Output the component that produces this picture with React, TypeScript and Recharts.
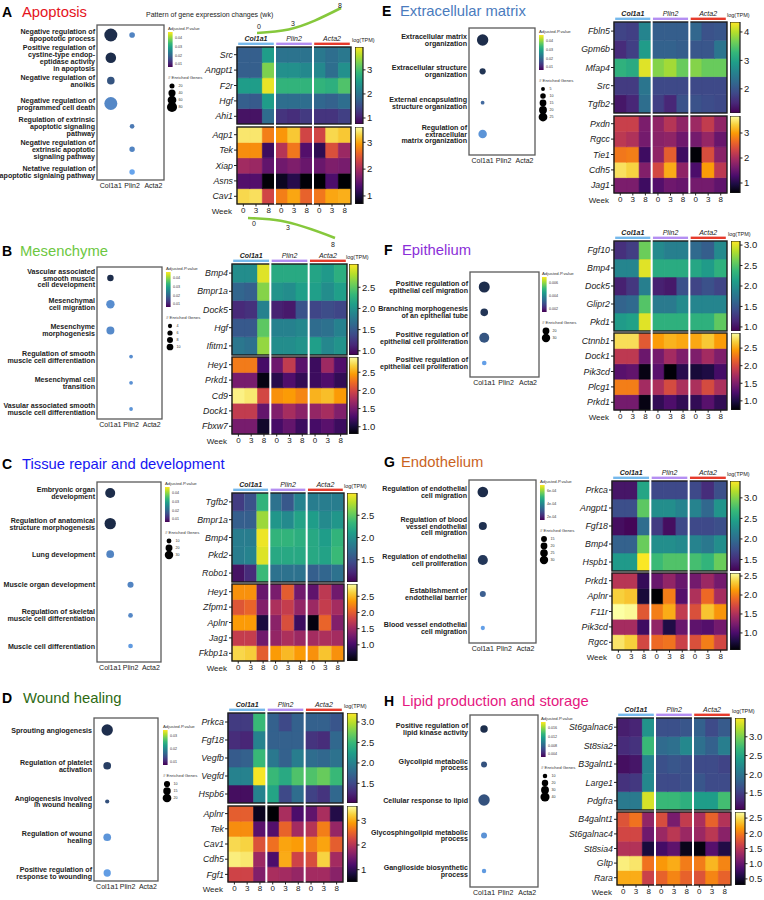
import React from "react";
import {
  BarChart,
  Bar,
  Cell,
  XAxis,
  YAxis,
  ScatterChart,
  Scatter,
  ZAxis,
  LineChart,
  Line,
} from "recharts";

const FONT = '"Liberation Sans", Arial, Helvetica, sans-serif';

// Shared axes: three cell populations sampled at weeks 0, 3 and 8
const groups = ["Col1a1", "Plin2", "Acta2"];
const weeks = ["0", "3", "8"];
const groupColors = ["#76b9ec", "#b48ef2", "#e63a2c"];

// Pattern sketch (expression trend over weeks)
const patternWeeks = [0, 3, 8];
const patternRise = [0, 0.14, 1];
const patternFall = [1, 0.86, 0];

type Dot = { t: number; c: number; n: number; p: number };

// ---------- A: Apoptosis ----------
const apoTerms = [
  "Negative regulation of\napopototic process",
  "Positive regulation of\ncystine-type endop-\neptidase activity\nin apoptosis",
  "Negative regulation of\nanoikis",
  "Negative regulation of\nprogrammed cell death",
  "Regulation of extrinsic\napoptotic signaling\npathway",
  "Negative regulation of\nextrinsic apoptotic\nsignaling pathway",
  "Netative regulation of\napoptotic signlaing pathway",
];
const apoDots: Dot[] = [
  { t: 0, c: 0, n: 85, p: 0.006 },
  { t: 0, c: 1, n: 16, p: 0.033 },
  { t: 1, c: 0, n: 56, p: 0.006 },
  { t: 2, c: 0, n: 29, p: 0.018 },
  { t: 3, c: 0, n: 85, p: 0.034 },
  { t: 4, c: 1, n: 11, p: 0.03 },
  { t: 5, c: 1, n: 15, p: 0.033 },
  { t: 6, c: 1, n: 15, p: 0.043 },
];
const apoTopGenes = ["Src", "Angpt1", "F2r", "Hgf", "Ahi1"];
const apoTopExpr = [
  [1.71, 1.71, 2.51, 1.97, 1.97, 1.97, 2.03, 1.9, 2.03],
  [1.71, 1.71, 3.31, 2.35, 2.35, 2.25, 2.25, 1.9, 2.35],
  [2.51, 2.51, 3.85, 2.83, 2.83, 2.83, 2.83, 2.77, 3.05],
  [1.71, 1.65, 2.51, 1.9, 1.9, 1.9, 1.81, 1.74, 1.9],
  [0.91, 0.91, 1.87, 1.23, 1.17, 1.29, 1.23, 1.23, 1.36],
];
const apoBotGenes = ["Aqp1", "Tek", "Xiap", "Asns", "Cav1"];
const apoBotExpr = [
  [3.4, 3.4, 2.75, 2.9, 3.2, 2.3, 2.3, 3.3, 3.2],
  [2.85, 2.85, 1.25, 2.1, 2.7, 1.4, 1.15, 2.4, 1.9],
  [1.95, 1.9, 1.5, 1.6, 1.7, 1.55, 1.55, 1.7, 1.65],
  [1.4, 1.4, 0.72, 0.85, 1.1, 0.72, 0.7, 1.35, 0.7],
  [3.3, 3.35, 2.3, 2.75, 3.0, 2.55, 2.7, 3.0, 3.05],
];

// ---------- B: Mesenchyme ----------
const mesTerms = [
  "Vascular associated\nsmooth muscle\ncell development",
  "Mesenchymal\ncell migration",
  "Mesenchyme\nmorphogenesis",
  "Regulation of smooth\nmuscle cell differentiation",
  "Mesenchymal cell\ntransition",
  "Vasular associated smooth\nmuscle cell differentiation",
];
const mesDots: Dot[] = [
  { t: 0, c: 0, n: 6, p: 0.006 },
  { t: 1, c: 0, n: 10, p: 0.036 },
  { t: 2, c: 0, n: 9, p: 0.035 },
  { t: 3, c: 1, n: 2, p: 0.036 },
  { t: 4, c: 1, n: 2, p: 0.037 },
  { t: 5, c: 1, n: 2, p: 0.038 },
];
const mesTopGenes = ["Bmp4", "Bmpr1a", "Dock5", "Hgf", "Ifitm1"];
const mesTopExpr = [
  [1.95, 1.95, 2.95, 2.2, 2.2, 2.2, 2.15, 2.05, 2.25],
  [1.6, 1.55, 2.65, 2.0, 1.95, 2.1, 2.1, 1.95, 2.1],
  [1.15, 1.2, 1.85, 1.1, 1.05, 1.45, 1.35, 1.4, 1.35],
  [1.5, 1.5, 2.5, 1.85, 1.85, 1.9, 1.65, 1.7, 1.85],
  [1.75, 1.7, 2.7, 1.95, 1.95, 2.0, 2.1, 1.9, 2.0],
];
const mesBotGenes = ["Hey1", "Prkd1", "Cd9", "Dock1", "Fbxw7"];
const mesBotExpr = [
  [2.3, 2.3, 1.25, 1.45, 1.9, 1.35, 1.2, 1.7, 1.3],
  [1.5, 1.5, 0.85, 1.1, 1.3, 1.15, 1.2, 1.3, 1.15],
  [2.85, 2.8, 2.0, 2.4, 2.45, 2.35, 2.55, 2.6, 2.45],
  [1.9, 1.9, 1.4, 1.55, 1.75, 1.6, 1.65, 1.75, 1.55],
  [1.5, 1.5, 0.95, 1.25, 1.4, 1.2, 1.25, 1.35, 1.2],
];

// ---------- C: Tissue repair and development ----------
const tisTerms = [
  "Embryonic organ\ndevelopment",
  "Regulation of anatomical\nstructure morphogenesis",
  "Lung development",
  "Muscle organ development",
  "Regulation of skeletal\nmuscle cell differentiation",
  "Muscle cell differentiation",
];
const tisDots: Dot[] = [
  { t: 0, c: 0, n: 27, p: 0.006 },
  { t: 1, c: 0, n: 35, p: 0.005 },
  { t: 2, c: 0, n: 16, p: 0.033 },
  { t: 3, c: 1, n: 10, p: 0.033 },
  { t: 4, c: 1, n: 6, p: 0.034 },
  { t: 5, c: 1, n: 6, p: 0.04 },
];
const tisTopGenes = ["Tgfb2", "Bmpr1a", "Bmp4", "Pkd2", "Robo1"];
const tisTopExpr = [
  [1.35, 1.5, 2.3, 1.75, 1.55, 1.9, 1.85, 1.85, 1.85],
  [1.6, 1.6, 2.7, 2.05, 1.95, 2.15, 2.1, 1.95, 2.05],
  [1.85, 1.85, 2.95, 2.3, 2.3, 2.25, 2.2, 2.1, 2.3],
  [1.85, 1.9, 2.9, 2.2, 2.2, 2.2, 2.2, 2.15, 2.35],
  [1.1, 1.25, 2.35, 1.75, 1.75, 1.75, 1.6, 1.65, 1.75],
];
const tisBotGenes = ["Hey1", "Zfpm1", "Aplnr", "Jag1", "Fkbp1a"];
const tisBotExpr = [
  [2.3, 2.3, 1.2, 1.3, 2.0, 1.25, 1.15, 1.7, 1.25],
  [1.95, 2.05, 1.35, 1.6, 1.75, 1.45, 1.5, 1.75, 1.55],
  [2.35, 2.35, 0.75, 1.4, 1.9, 0.95, 0.55, 2.05, 1.35],
  [1.75, 1.75, 1.25, 1.45, 1.6, 1.5, 1.55, 1.6, 1.55],
  [2.65, 2.6, 2.0, 2.35, 2.5, 2.35, 2.3, 2.55, 2.3],
];

// ---------- D: Wound healing ----------
const wouTerms = [
  "Sprouting angiogenesis",
  "Regulation of platelet\nactivation",
  "Angiogenesis involved\nin wound healing",
  "Regulation of wound\nhealing",
  "Positive regulation of\nresponse to wounding",
];
const wouDots: Dot[] = [
  { t: 0, c: 0, n: 22, p: 0.004 },
  { t: 1, c: 0, n: 10, p: 0.008 },
  { t: 2, c: 0, n: 3, p: 0.012 },
  { t: 3, c: 0, n: 10, p: 0.028 },
  { t: 4, c: 0, n: 9, p: 0.03 },
];
const wouTopGenes = ["Prkca", "Fgf18", "Vegfb", "Vegfd", "Hspb6"];
const wouTopExpr = [
  [1.4, 1.4, 2.5, 1.7, 1.5, 1.7, 1.7, 1.7, 1.6],
  [1.3, 1.25, 2.0, 1.7, 1.7, 1.7, 1.35, 1.3, 1.75],
  [1.65, 1.7, 2.5, 1.9, 1.7, 1.95, 1.8, 1.75, 1.85],
  [2.0, 2.0, 3.2, 2.5, 2.35, 2.6, 2.6, 2.7, 2.5],
  [1.1, 1.1, 2.0, 2.3, 1.5, 1.8, 1.45, 1.35, 1.75],
];
const wouBotGenes = ["Aplnr", "Tek", "Cav1", "Cdh5", "Fgf1"];
const wouBotExpr = [
  [2.45, 2.45, 0.65, 0.5, 1.9, 1.2, 1.35, 1.9, 0.9],
  [2.8, 2.8, 1.3, 1.25, 2.5, 1.85, 2.0, 2.7, 1.75],
  [3.3, 3.25, 2.35, 2.6, 2.95, 2.9, 2.7, 2.95, 2.45],
  [3.45, 3.4, 1.8, 1.2, 3.0, 2.2, 2.3, 3.25, 1.85],
  [2.2, 2.2, 1.6, 1.9, 1.85, 1.75, 1.85, 1.85, 1.65],
];

// ---------- E: Extracellular matrix ----------
const ecmTerms = [
  "Extracellular matrix\norganization",
  "Extracellular structure\norganization",
  "External encapsulating\nstructure organization",
  "Regulation of\nextracellular\nmatrix organization",
];
const ecmDots: Dot[] = [
  { t: 0, c: 0, n: 27, p: 0.006 },
  { t: 1, c: 0, n: 8, p: 0.008 },
  { t: 2, c: 0, n: 3, p: 0.025 },
  { t: 3, c: 0, n: 15, p: 0.038 },
];
const ecmTopGenes = ["Fbln5", "Gpm6b", "Mfap4", "Src", "Tgfb2"];
const ecmTopExpr = [
  [1.8, 1.75, 2.6, 2.1, 2.1, 2.1, 2.2, 1.95, 2.0],
  [1.55, 1.75, 2.9, 2.15, 2.15, 2.1, 2.0, 2.0, 2.4],
  [3.2, 3.1, 4.2, 3.75, 3.9, 3.6, 3.75, 3.6, 3.6],
  [1.7, 1.7, 2.4, 1.85, 1.85, 1.85, 1.85, 1.85, 1.85],
  [1.35, 1.5, 2.3, 1.75, 1.5, 1.95, 1.95, 1.9, 1.85],
];
const ecmBotGenes = ["Pxdn", "Rgcc", "Tie1", "Cdh5", "Jag1"];
const ecmBotExpr = [
  [2.25, 2.25, 1.65, 1.8, 2.1, 1.8, 1.9, 2.2, 1.8],
  [2.15, 2.05, 1.6, 1.75, 1.8, 1.55, 1.6, 1.85, 1.5],
  [2.75, 2.8, 1.2, 1.8, 2.55, 1.2, 0.62, 2.4, 1.75],
  [3.45, 3.35, 1.7, 2.35, 3.1, 1.8, 1.3, 3.0, 2.15],
  [1.65, 1.65, 1.2, 1.35, 1.55, 1.5, 1.6, 1.6, 1.45],
];

// ---------- F: Epithelium ----------
const epiTerms = [
  "Positive regulation of\nepithelial cell migration",
  "Branching morphogenesis\nof an epithelial tube",
  "Positive regulation of\nepithelial cell proliferation",
  "Positive regulation of\nepithelial cell proliferation",
];
const epiDots: Dot[] = [
  { t: 0, c: 0, n: 33, p: 0.0012 },
  { t: 1, c: 0, n: 16, p: 0.0015 },
  { t: 2, c: 0, n: 27, p: 0.003 },
  { t: 3, c: 0, n: 6, p: 0.0065 },
];
const epiTopGenes = ["Fgf10", "Bmp4", "Dock5", "Glipr2", "Pkd1"];
const epiTopExpr = [
  [1.2, 1.3, 2.6, 1.95, 1.85, 1.85, 1.65, 1.55, 1.95],
  [1.9, 1.9, 3.0, 2.25, 2.25, 2.25, 2.2, 2.1, 2.3],
  [1.1, 1.25, 1.85, 1.1, 1.05, 1.45, 1.35, 1.45, 1.35],
  [1.6, 1.65, 2.5, 1.8, 1.8, 1.95, 1.9, 1.9, 1.9],
  [2.1, 2.15, 3.0, 2.3, 2.3, 2.3, 2.3, 2.3, 2.55],
];
const epiBotGenes = ["Ctnnb1", "Dock1", "Pik3cd", "Plcg1", "Prkd1"];
const epiBotExpr = [
  [2.75, 2.75, 2.1, 2.45, 2.55, 2.5, 2.5, 2.65, 2.45],
  [1.85, 1.85, 1.4, 1.45, 1.7, 1.5, 1.5, 1.7, 1.5],
  [1.3, 1.35, 0.8, 1.3, 0.75, 1.05, 0.95, 1.0, 1.2],
  [2.3, 2.3, 1.7, 1.75, 2.0, 1.75, 1.75, 2.0, 1.75],
  [1.45, 1.45, 0.8, 1.1, 1.25, 1.1, 1.1, 1.3, 1.1],
];

// ---------- G: Endothelium ----------
const endTerms = [
  "Regulation of endothelial\ncell migration",
  "Regulation of blood\nvessel endothelial\ncell migration",
  "Regulation of endothelial\ncell proliferation",
  "Establishment of\nendothelial barrier",
  "Blood vessel endothelial\ncell migration",
];
const endDots: Dot[] = [
  { t: 0, c: 0, n: 31, p: 0.00011 },
  { t: 1, c: 0, n: 18, p: 0.00013 },
  { t: 2, c: 0, n: 28, p: 0.00016 },
  { t: 3, c: 0, n: 10, p: 0.00035 },
  { t: 4, c: 0, n: 5, p: 0.00065 },
];
const endTopGenes = ["Prkca", "Angpt1", "Fgf18", "Bmp4", "Hspb1"];
const endTopExpr = [
  [1.35, 1.35, 2.5, 1.7, 1.7, 1.7, 1.7, 1.5, 1.75],
  [1.75, 1.75, 2.85, 2.3, 2.3, 2.2, 2.2, 1.95, 2.35],
  [1.3, 1.25, 2.0, 1.6, 1.3, 1.7, 1.7, 1.7, 1.75],
  [1.9, 1.9, 2.9, 2.3, 2.3, 2.25, 2.2, 2.1, 2.3],
  [2.4, 2.4, 3.4, 2.7, 2.8, 2.8, 2.75, 2.65, 2.9],
];
const endBotGenes = ["Prkd1", "Aplnr", "F11r", "Pik3cd", "Rgcc"];
const endBotExpr = [
  [1.55, 1.55, 0.9, 1.15, 1.35, 1.15, 1.2, 1.4, 1.2],
  [2.35, 2.3, 0.75, 0.55, 2.0, 1.05, 1.5, 1.9, 1.45],
  [2.6, 2.55, 1.8, 2.0, 2.2, 1.6, 1.75, 2.3, 2.1],
  [1.45, 1.45, 0.95, 1.35, 0.8, 1.15, 1.1, 1.05, 1.2],
  [2.45, 2.35, 1.7, 1.9, 1.95, 1.65, 1.75, 2.0, 1.7],
];

// ---------- H: Lipid production and storage ----------
const lipTerms = [
  "Positive regulation of\nlipid kinase activity",
  "Glycolipid metabolic\nprocess",
  "Cellular response to lipid",
  "Glycosphingolipid metabolic\nprocess",
  "Ganglioside biosynthetic\nprocess",
];
const lipDots: Dot[] = [
  { t: 0, c: 0, n: 17, p: 0.0025 },
  { t: 1, c: 0, n: 11, p: 0.007 },
  { t: 2, c: 0, n: 40, p: 0.007 },
  { t: 3, c: 0, n: 11, p: 0.015 },
  { t: 4, c: 0, n: 6, p: 0.016 },
];
const lipTopGenes = ["St6galnac6", "St8sia2", "B3galnt1", "Large1", "Pdgfra"];
const lipTopExpr = [
  [1.25, 1.3, 2.3, 1.65, 1.65, 1.7, 1.8, 1.6, 1.75],
  [1.35, 1.4, 2.7, 1.9, 1.95, 2.2, 1.95, 1.8, 2.1],
  [1.15, 1.2, 2.15, 1.65, 1.7, 1.65, 1.6, 1.6, 1.55],
  [1.4, 1.45, 2.2, 1.6, 1.6, 1.65, 1.7, 1.6, 1.6],
  [2.05, 2.05, 3.35, 2.7, 2.7, 2.6, 2.4, 2.4, 2.75],
];
const lipBotGenes = ["B4galnt1", "St6galnac4", "St8sia4", "Gltp", "Rara"];
const lipBotExpr = [
  [1.75, 1.95, 1.25, 1.7, 1.1, 1.55, 1.4, 1.85, 1.45],
  [1.65, 1.65, 1.05, 1.3, 1.5, 1.3, 1.3, 1.5, 1.2],
  [1.45, 1.45, 0.55, 0.8, 0.95, 0.4, 0.35, 0.9, 0.6],
  [2.6, 2.55, 1.95, 2.15, 2.25, 2.0, 2.0, 2.3, 2.05],
  [2.25, 2.25, 1.6, 1.85, 2.05, 1.85, 1.75, 2.05, 1.85],
];

// ---------- colour maps ----------
const VIRIDIS = ["#440154", "#482878", "#3e4a89", "#31688e", "#26828e", "#1f9e89", "#35b779", "#6ece58", "#b5de2b", "#fde725"];
const INFERNO = ["#000004", "#1b0c41", "#4a0c6b", "#781c6d", "#a52c60", "#cf4446", "#ed6925", "#fb9b06", "#f7d13d", "#fcffa4"];

function hexToRgb(h: string) {
  const v = parseInt(h.slice(1), 16);
  return [(v >> 16) & 255, (v >> 8) & 255, v & 255];
}
function lerpColor(a: string, b: string, t: number) {
  const A = hexToRgb(a);
  const B = hexToRgb(b);
  const c = A.map((x, i) => Math.round(x + (B[i] - x) * t));
  return `rgb(${c[0]},${c[1]},${c[2]})`;
}
function sampleMap(stops: string[], t: number) {
  const tt = Math.max(0, Math.min(1, t));
  const s = tt * (stops.length - 1);
  const i = Math.min(stops.length - 2, Math.floor(s));
  return lerpColor(stops[i], stops[i + 1], s - i);
}
function dotColor(p: number, dom: number[]) {
  return lerpColor("#1b2a47", "#6aaaf6", Math.max(0, Math.min(1, (p - dom[0]) / (dom[1] - dom[0]))));
}

// ---------- layout of each panel ----------
const panels = [
  {
    letter: "A", title: "Apoptosis", color: "#e5131c", lx: 2, tx: 22, ty: 17,
    terms: apoTerms, dots: apoDots, pDomain: [0.005, 0.045], maxN: 85, maxR: 6.5,
    pTicks: ["0.04", "0.03", "0.02", "0.01"], nTicks: [20, 40, 60, 80],
    box: { x: 97, y: 25, w: 67, h: 155 }, rowFirst: 35, rowLast: 172, lh: 7, legend: { x: 168, y: 27 },
    heat: { x: 237, w: 114, topY: 47, topH: 77, botY: 127, botH: 77, cbX: 355, cbW: 8 },
    topGenes: apoTopGenes, topExpr: apoTopExpr, topDomain: [0.75, 3.95], topTicks: [1, 2, 3], topDec: 0,
    botGenes: apoBotGenes, botExpr: apoBotExpr, botDomain: [0.7, 3.57], botTicks: [1, 2, 3], botDec: 0,
  },
  {
    letter: "B", title: "Mesenchyme", color: "#6cc741", lx: 2, tx: 20, ty: 256,
    terms: mesTerms, dots: mesDots, pDomain: [0.005, 0.045], maxN: 10, maxR: 4.2,
    pTicks: ["0.04", "0.03", "0.02", "0.01"], nTicks: [4, 6, 8, 10],
    box: { x: 97, y: 267, w: 65, h: 152 }, rowFirst: 278, rowLast: 409, lh: 6.9, legend: { x: 166, y: 267 },
    heat: { x: 232, w: 115, topY: 264, topH: 91, botY: 357, botH: 77, cbX: 349, cbW: 9 },
    topGenes: mesTopGenes, topExpr: mesTopExpr, topDomain: [0.9, 3.05], topTicks: [1, 1.5, 2, 2.5], topDec: 1,
    botGenes: mesBotGenes, botExpr: mesBotExpr, botDomain: [0.8, 2.92], botTicks: [1, 1.5, 2, 2.5], botDec: 1,
  },
  {
    letter: "C", title: "Tissue repair and development", color: "#1616f2", lx: 2, tx: 22, ty: 469,
    terms: tisTerms, dots: tisDots, pDomain: [0.005, 0.045], maxN: 35, maxR: 5.7,
    pTicks: ["0.04", "0.03", "0.02", "0.01"], nTicks: [10, 20, 30],
    box: { x: 97, y: 482, w: 64, h: 180 }, rowFirst: 493, rowLast: 646, lh: 6.9, legend: { x: 165, y: 482 },
    heat: { x: 232, w: 112, topY: 493, topH: 89, botY: 584, botH: 77, cbX: 347, cbW: 10 },
    topGenes: tisTopGenes, topExpr: tisTopExpr, topDomain: [1.0, 3.0], topTicks: [1.5, 2, 2.5], topDec: 1,
    botGenes: tisBotGenes, botExpr: tisBotExpr, botDomain: [0.5, 2.88], botTicks: [1, 1.5, 2, 2.5], botDec: 1,
  },
  {
    letter: "D", title: "Wound healing", color: "#2d6a12", lx: 2, tx: 23, ty: 703,
    terms: wouTerms, dots: wouDots, pDomain: [0.003, 0.033], maxN: 22, maxR: 5.7,
    pTicks: ["0.03", "0.02", "0.01"], nTicks: [10, 15, 20],
    box: { x: 94, y: 718, w: 64, h: 163 }, rowFirst: 730, rowLast: 873, lh: 6.9, legend: { x: 163, y: 725 },
    heat: { x: 228, w: 115, topY: 713, topH: 90, botY: 806, botH: 76, cbX: 347, cbW: 10 },
    topGenes: wouTopGenes, topExpr: wouTopExpr, topDomain: [1.02, 3.22], topTicks: [1.5, 2, 2.5, 3], topDec: 1,
    botGenes: wouBotGenes, botExpr: wouBotExpr, botDomain: [0.5, 3.58], botTicks: [1, 2, 3], botDec: 0,
  },
  {
    letter: "E", title: "Extracellular matrix", color: "#4a7bbd", lx: 382, tx: 400, ty: 16,
    terms: ecmTerms, dots: ecmDots, pDomain: [0.005, 0.045], maxN: 27, maxR: 5.7,
    pTicks: ["0.04", "0.03", "0.02", "0.01"], nTicks: [5, 10, 15, 20, 25],
    box: { x: 469, y: 28, w: 66, h: 127 }, rowFirst: 40, rowLast: 134, lh: 6.9, legend: { x: 539, y: 30 },
    heat: { x: 614, w: 113, topY: 22, topH: 91, botY: 116, botH: 77, cbX: 730, cbW: 10 },
    topGenes: ecmTopGenes, topExpr: ecmTopExpr, topDomain: [1.15, 4.35], topTicks: [2, 3, 4], topDec: 0,
    botGenes: ecmBotGenes, botExpr: ecmBotExpr, botDomain: [0.6, 3.68], botTicks: [1, 2, 3], botDec: 0,
  },
  {
    letter: "F", title: "Epithelium", color: "#8b2fd8", lx: 384, tx: 402, ty: 255,
    terms: epiTerms, dots: epiDots, pDomain: [0.001, 0.007], maxN: 33, maxR: 5.5,
    pTicks: ["0.006", "0.004", "0.002"], nTicks: [20, 30],
    box: { x: 470, y: 272, w: 69, h: 105 }, rowFirst: 287, rowLast: 363, lh: 6.9, legend: { x: 542, y: 272 },
    heat: { x: 614, w: 113, topY: 241, topH: 90, botY: 333, botH: 77, cbX: 731, cbW: 9 },
    topGenes: epiTopGenes, topExpr: epiTopExpr, topDomain: [0.9, 3.1], topTicks: [1, 1.5, 2, 2.5, 3], topDec: 1,
    botGenes: epiBotGenes, botExpr: epiBotExpr, botDomain: [0.74, 2.93], botTicks: [1, 1.5, 2, 2.5], botDec: 1,
  },
  {
    letter: "G", title: "Endothelium", color: "#c9631f", lx: 384, tx: 401, ty: 467,
    terms: endTerms, dots: endDots, pDomain: [0.0001, 0.0007], maxN: 31, maxR: 5.3,
    pTicks: ["6e-04", "4e-04", "2e-04"], nTicks: [15, 20, 25, 30],
    box: { x: 469, y: 480, w: 67, h: 163 }, rowFirst: 492, rowLast: 628, lh: 6.9, legend: { x: 540, y: 480 },
    heat: { x: 612, w: 115, topY: 481, topH: 90, botY: 573, botH: 77, cbX: 730, cbW: 10 },
    topGenes: endTopGenes, topExpr: endTopExpr, topDomain: [1.22, 3.41], topTicks: [1.5, 2, 2.5, 3], topDec: 1,
    botGenes: endBotGenes, botExpr: endBotExpr, botDomain: [0.55, 2.58], botTicks: [1, 1.5, 2, 2.5], botDec: 1,
  },
  {
    letter: "H", title: "Lipid production and storage", color: "#e5177f", lx: 384, tx: 402, ty: 706,
    terms: lipTerms, dots: lipDots, pDomain: [0.002, 0.018], maxN: 40, maxR: 5.7,
    pTicks: ["0.016", "0.012", "0.008", "0.004"], nTicks: [10, 20, 30, 40],
    box: { x: 470, y: 715, w: 68, h: 172 }, rowFirst: 729, rowLast: 871, lh: 6.9, legend: { x: 541, y: 717 },
    heat: { x: 617, w: 114, topY: 718, topH: 92, botY: 812, botH: 73, cbX: 735, cbW: 10 },
    topGenes: lipTopGenes, topExpr: lipTopExpr, topDomain: [1.05, 3.5], topTicks: [1.5, 2, 2.5, 3], topDec: 1,
    botGenes: lipBotGenes, botExpr: lipBotExpr, botDomain: [0.3, 2.7], botTicks: [0.5, 1, 1.5, 2, 2.5], botDec: 1,
  },
];

type Panel = (typeof panels)[number];

const ZERO = { top: 0, right: 0, bottom: 0, left: 0 };
const LABEL_W = 62;
const TERM_W = 112;
const CB_PAD = 7;

// Multi-line GO term label, right aligned against the dot box
function TermTick(props: any) {
  const { x, y, payload, terms, lh } = props;
  const lines: string[] = (terms[payload.value] ?? "").split("\n");
  const top = y - ((lines.length - 1) * lh) / 2 + 2.5;
  return (
    <text textAnchor="end" fontSize={7.1} fontWeight="bold" fill="#222">
      {lines.map((l, i) => (
        <tspan key={i} x={x} y={top + i * lh}>
          {l}
        </tspan>
      ))}
    </text>
  );
}

function DotPlot({ cfg }: { cfg: Panel }) {
  const { box, terms, dots } = cfg;
  const n = terms.length;
  const step = (cfg.rowLast - cfg.rowFirst) / (n - 1);
  const lo = -(cfg.rowFirst - box.y) / step;
  const hi = n - 1 + (box.y + box.h - cfg.rowLast) / step;
  const pts = dots.map((d) => ({ x: d.c, y: d.t, n: d.n, p: d.p }));
  return (
    <div style={{ position: "absolute", left: box.x - TERM_W, top: box.y }}>
      <ScatterChart width={box.w + TERM_W} height={box.h + 14} margin={ZERO}>
        <XAxis
          type="number"
          dataKey="x"
          domain={[-0.65, 2.5]}
          ticks={[0, 1, 2]}
          interval={0}
          tickFormatter={(v: number) => groups[v]}
          axisLine={false}
          tickLine={false}
          tickSize={0}
          tickMargin={3}
          height={14}
          tick={{ fontSize: 7, fill: "#222" }}
          allowDataOverflow
        />
        <YAxis
          type="number"
          dataKey="y"
          domain={[lo, hi]}
          reversed
          ticks={terms.map((_, i) => i)}
          interval={0}
          width={TERM_W}
          axisLine={false}
          tickLine={false}
          tickSize={0}
          tickMargin={2}
          tick={(props: any) => <TermTick {...props} terms={terms} lh={cfg.lh} />}
          allowDataOverflow
        />
        <ZAxis type="number" dataKey="n" domain={[0, cfg.maxN]} range={[0, Math.PI * cfg.maxR * cfg.maxR]} />
        <Scatter data={pts} isAnimationActive={false}>
          {pts.map((d, i) => (
            <Cell key={i} fill={dotColor(d.p, cfg.pDomain)} />
          ))}
        </Scatter>
      </ScatterChart>
    </div>
  );
}

function DotLegend({ cfg }: { cfg: Panel }) {
  const { x, y } = cfg.legend;
  const k = cfg.pTicks.length;
  const barTop = 5;
  const barH = 35;
  const gid = `pv-${cfg.letter}`;
  return (
    <svg width={40} height={110} style={{ position: "absolute", left: x, top: y, overflow: "visible" }}>
      <defs>
        <linearGradient id={gid} x1="0" y1="1" x2="0" y2="0">
          {VIRIDIS.map((c, i) => (
            <stop key={i} offset={i / (VIRIDIS.length - 1)} stopColor={c} />
          ))}
        </linearGradient>
      </defs>
      <text x={0} y={3} fontSize={4.3} fill="#333">Adjusted.P.value</text>
      <rect x={0} y={barTop} width={4.6} height={barH} fill={`url(#${gid})`} />
      {cfg.pTicks.map((t, i) => (
        <text key={t} x={7} y={barTop + 6 + (i * (barH - 9)) / Math.max(1, k - 1) + 1.2} fontSize={3.6} fill="#333">
          {t}
        </text>
      ))}
      <text x={0} y={barTop + barH + 12} fontSize={4.3} fill="#333"># Enriched Genes</text>
      {cfg.nTicks.map((v, i) => {
        const r = Math.max(1.8, cfg.maxR * Math.sqrt(v / cfg.maxN) * 0.8);
        const cy = barTop + barH + 19 + i * 7;
        return (
          <g key={v}>
            <circle cx={4} cy={cy} r={r} fill="#000" />
            <text x={10.5} y={cy + 1.2} fontSize={3.6} fill="#333">{v}</text>
          </g>
        );
      })}
    </svg>
  );
}

// One block of the expression heatmap: a stack of unit bars per column, one segment per gene
function HeatBlock(props: {
  x: number; y: number; w: number; hgt: number; genes: string[]; expr: number[][];
  domain: number[]; cmap: string[]; weeksAxis: boolean;
}) {
  const { x, y, w, hgt, genes, expr, domain, cmap, weeksAxis } = props;
  const n = genes.length;
  const data = expr[0].map((_, c) => {
    const row: Record<string, number> = { c };
    genes.forEach((_, g) => {
      row[`g${g}`] = 1;
    });
    return row;
  });
  const fill = (v: number) => sampleMap(cmap, (v - domain[0]) / (domain[1] - domain[0]));
  const axisH = weeksAxis ? 14 : 0;
  return (
    <div style={{ position: "absolute", left: x - LABEL_W, top: y }}>
      <BarChart width={w + LABEL_W} height={hgt + axisH} data={data} margin={ZERO} barCategoryGap={0} barGap={0}>
        <XAxis
          dataKey="c"
          type="category"
          hide={!weeksAxis}
          height={axisH}
          interval={0}
          tickFormatter={(v: any) => weeks[Number(v) % 3]}
          axisLine={false}
          tickSize={2.5}
          tickMargin={1}
          tickLine={{ stroke: "#222" }}
          tick={{ fontSize: 8, fill: "#222" }}
        />
        <YAxis
          type="number"
          domain={[0, n]}
          ticks={genes.map((_, i) => n - i - 0.5)}
          interval={0}
          tickFormatter={(v: number) => genes[Math.round(n - 0.5 - v)]}
          width={LABEL_W}
          axisLine={false}
          tickSize={3}
          tickMargin={1}
          tickLine={{ stroke: "#222" }}
          tick={{ fontSize: 8.8, fill: "#222", fontStyle: "italic" }}
          allowDecimals
        />
        {genes.map((_, k) => {
          const g = n - 1 - k;
          return (
            <Bar key={g} dataKey={`g${g}`} stackId="cells" isAnimationActive={false}>
              {data.map((_, c) => {
                const col = fill(expr[g][c]);
                return <Cell key={c} fill={col} stroke={col} strokeWidth={0.6} />;
              })}
            </Bar>
          );
        })}
      </BarChart>
    </div>
  );
}

function ColorBar(props: {
  id: string; x: number; y: number; w: number; hgt: number; domain: number[];
  ticks: number[]; dec: number; cmap: string[];
}) {
  const { id, x, y, w, hgt, domain, ticks, dec, cmap } = props;
  const data = [{ k: "bar", r: domain }];
  const AW = 24;
  return (
    <div style={{ position: "absolute", left: x, top: y - CB_PAD }}>
      <BarChart
        width={w + AW}
        height={hgt + 2 * CB_PAD}
        data={data}
        margin={{ top: CB_PAD, right: 0, bottom: CB_PAD, left: 0 }}
        barCategoryGap={0}
      >
        <defs>
          <linearGradient id={id} x1="0" y1="1" x2="0" y2="0">
            {cmap.map((c, i) => (
              <stop key={i} offset={i / (cmap.length - 1)} stopColor={c} />
            ))}
          </linearGradient>
        </defs>
        <XAxis dataKey="k" hide />
        <YAxis
          orientation="right"
          type="number"
          domain={domain}
          ticks={ticks}
          interval={0}
          allowDataOverflow
          width={AW}
          axisLine={false}
          tickSize={2.5}
          tickMargin={1.5}
          tickLine={{ stroke: "#222" }}
          tick={{ fontSize: 9.5, fill: "#222" }}
          tickFormatter={(v: number) => v.toFixed(dec)}
        />
        <Bar dataKey="r" fill={`url(#${id})`} stroke="#1a1a1a" strokeWidth={1.2} isAnimationActive={false} />
      </BarChart>
    </div>
  );
}

// Titles, frames, group headers and separators drawn over the charts
function Overlay({ cfg }: { cfg: Panel }) {
  const h = cfg.heat;
  const third = h.w / 3;
  const bottom = h.botY + h.botH;
  const b = cfg.box;
  return (
    <svg width={764} height={900} style={{ position: "absolute", left: 0, top: 0, pointerEvents: "none", overflow: "visible" }}>
      <text x={cfg.lx} y={cfg.ty} fontSize={14} fontWeight="bold" fill="#000">{cfg.letter}</text>
      <text x={cfg.tx} y={cfg.ty} fontSize={14.8} fill={cfg.color}>{cfg.title}</text>
      <rect x={b.x} y={b.y} width={b.w} height={b.h} fill="none" stroke="#5a5a5a" strokeWidth={1.3} />
      <rect x={h.x} y={h.topY} width={h.w} height={h.topH} fill="none" stroke="#1c1c1c" strokeWidth={1.4} />
      <rect x={h.x} y={h.botY} width={h.w} height={h.botH} fill="none" stroke="#1c1c1c" strokeWidth={1.4} />
      {groups.map((g, i) => (
        <rect key={`bar-${g}`} x={h.x + i * third + 1.2} y={h.topY - 4.4} width={third - 2.4} height={2.4} fill={groupColors[i]} />
      ))}
      {groups.map((g, i) => (
        <text
          key={`lab-${g}`}
          x={h.x + i * third + third / 2}
          y={h.topY - 6}
          textAnchor="middle"
          fontSize={7}
          fontStyle="italic"
          fontWeight={i === 0 ? "bold" : "normal"}
          fill="#222"
        >
          {g}
        </text>
      ))}
      {[1, 2].map((i) => (
        <rect key={`sep-${i}`} x={h.x + i * third - 1} y={h.topY - 5.5} width={2} height={bottom - h.topY + 6} fill="#fff" />
      ))}
      <text x={h.cbX - 3} y={h.topY - 5} fontSize={5.5} fill="#222">log(TPM)</text>
      <text x={h.x - 5} y={bottom + 10} textAnchor="end" fontSize={8} fill="#222">Week</text>
    </svg>
  );
}

function PanelView({ cfg }: { cfg: Panel }) {
  const h = cfg.heat;
  return (
    <>
      <DotPlot cfg={cfg} />
      <DotLegend cfg={cfg} />
      <HeatBlock x={h.x} y={h.topY} w={h.w} hgt={h.topH} genes={cfg.topGenes} expr={cfg.topExpr} domain={cfg.topDomain} cmap={VIRIDIS} weeksAxis={false} />
      <HeatBlock x={h.x} y={h.botY} w={h.w} hgt={h.botH} genes={cfg.botGenes} expr={cfg.botExpr} domain={cfg.botDomain} cmap={INFERNO} weeksAxis />
      <ColorBar id={`cb-${cfg.letter}-top`} x={h.cbX} y={h.topY} w={h.cbW} hgt={h.topH} domain={cfg.topDomain} ticks={cfg.topTicks} dec={cfg.topDec} cmap={VIRIDIS} />
      <ColorBar id={`cb-${cfg.letter}-bot`} x={h.cbX} y={h.botY} w={h.cbW} hgt={h.botH} domain={cfg.botDomain} ticks={cfg.botTicks} dec={cfg.botDec} cmap={INFERNO} />
      <Overlay cfg={cfg} />
    </>
  );
}

function PatternCurve({ left, top, width, height, values }: { left: number; top: number; width: number; height: number; values: number[] }) {
  const data = patternWeeks.map((wk, i) => ({ wk, v: values[i] }));
  return (
    <div style={{ position: "absolute", left, top }}>
      <LineChart width={width} height={height} data={data} margin={{ top: 2, right: 2, bottom: 2, left: 2 }}>
        <XAxis type="number" dataKey="wk" domain={[0, 8]} hide />
        <YAxis type="number" domain={[0, 1]} hide />
        <Line type="monotone" dataKey="v" stroke="#86c83c" strokeWidth={2.6} dot={false} isAnimationActive={false} />
      </LineChart>
    </div>
  );
}

export default function App() {
  return (
    <div style={{ position: "relative", width: 764, height: 900, background: "#fff", fontFamily: FONT, overflow: "hidden" }}>
      <style>{"body{margin:0}"}</style>
      {panels.map((p) => (
        <PanelView key={p.letter} cfg={p} />
      ))}
      <PatternCurve left={255} top={6} width={88} height={29} values={patternRise} />
      <PatternCurve left={246} top={216} width={91} height={24} values={patternFall} />
      <svg width={764} height={900} style={{ position: "absolute", left: 0, top: 0, pointerEvents: "none" }}>
        <text x={146} y={16.5} fontSize={7} fill="#222">Pattern of gene expression changes (wk)</text>
        <text x={259} y={28.5} fontSize={7} textAnchor="middle" fill="#222">0</text>
        <text x={293} y={25.5} fontSize={7} textAnchor="middle" fill="#222">3</text>
        <text x={340} y={7.5} fontSize={7} textAnchor="middle" fill="#222">8</text>
        <text x={254} y={226} fontSize={7} textAnchor="middle" fill="#222">0</text>
        <text x={288} y={230} fontSize={7} textAnchor="middle" fill="#222">3</text>
        <text x={333} y={247} fontSize={7} textAnchor="middle" fill="#222">8</text>
      </svg>
    </div>
  );
}
